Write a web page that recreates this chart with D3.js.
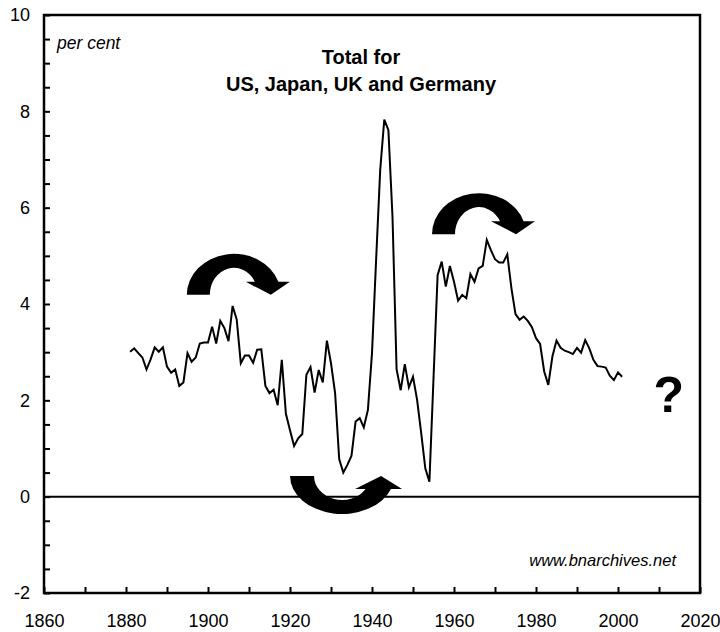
<!DOCTYPE html>
<html>
<head>
<meta charset="utf-8">
<title>Total for US, Japan, UK and Germany</title>
<script src="https://d3js.org/d3.v7.min.js"></script>
<style>
  body { margin: 0; background: #fff; }
  svg { display: block; font-family: "Liberation Sans", Arial, sans-serif; }
  .tick text { font-size: 18px; fill: #000; }
  .tick line { stroke: #000; stroke-width: 2px; }
  .title { font-size: 20px; font-weight: bold; }
  .note { font-style: italic; font-size: 16.5px; }
  .unit { font-style: italic; font-size: 17.5px; }
</style>
</head>
<body>
<div id="chart"></div>
<script>
const width = 720, height = 632;

// per cent, one value a year from 1881 to 2001
const firstYear = 1881;
const values = [
  3.01, 3.08, 2.98, 2.89, 2.64, 2.85, 3.10, 3.01, 3.10, 2.70,
  2.57, 2.64, 2.30, 2.37, 2.98, 2.80, 2.89, 3.18, 3.20, 3.20,
  3.53, 3.18, 3.65, 3.50, 3.23, 3.96, 3.68, 2.77, 2.93, 2.93,
  2.78, 3.05, 3.06, 2.30, 2.15, 2.22, 1.90, 2.84, 1.72, 1.38,
  1.05, 1.21, 1.30, 2.53, 2.69, 2.16, 2.63, 2.37, 3.24, 2.77,
  2.15, 0.78, 0.50, 0.66, 0.85, 1.56, 1.63, 1.44, 1.80, 2.98,
  4.91, 6.78, 7.83, 7.61, 5.81, 2.64, 2.21, 2.75, 2.27, 2.49,
  2.01, 1.32, 0.59, 0.31, 2.45, 4.60, 4.88, 4.36, 4.79, 4.46,
  4.07, 4.19, 4.12, 4.62, 4.46, 4.74, 4.79, 5.33, 5.12, 4.93,
  4.86, 4.86, 5.03, 4.33, 3.79, 3.67, 3.74, 3.65, 3.52, 3.29,
  3.17, 2.60, 2.32, 2.91, 3.24, 3.09, 3.03, 3.00, 2.96, 3.09,
  2.99, 3.25, 3.08, 2.84, 2.71, 2.70, 2.68, 2.51, 2.42, 2.58,
  2.49
];
const years = values.map((v, i) => firstYear + i);

const xTicks = d3.range(1860, 2021, 10);
const xLabels = [1860, 1880, 1900, 1920, 1940, 1960, 1980, 2000, 2020];
const yTicks = d3.range(-2, 10.01, 0.5);
const yLabels = [-2, 0, 2, 4, 6, 8, 10];

const titleLines = ["Total for", "US, Japan, UK and Germany"];
const unitLabel = "per cent";
const sourceLabel = "www.bnarchives.net";

// where the curved arrows and the question mark sit (year, per cent)
const arrowAnchors = [
  { year: 1906.3, value: 4.19, kind: "over" },
  { year: 1966.1, value: 5.45, kind: "over" },
  { year: 1932.7, value: 0.43, kind: "under" }
];
const questionAnchor = { year: 2012.4, value: 1.76 };

const margin = { top: 15, right: 20, bottom: 39, left: 44 };

const x = d3.scaleLinear()
  .domain([1860, 2020])
  .range([margin.left, width - margin.right]);

const y = d3.scaleLinear()
  .domain([-2, 10])
  .range([height - margin.bottom, margin.top]);

const svg = d3.select("#chart").append("svg")
  .attr("width", width)
  .attr("height", height);

// axes, ticks pointing inwards
const xAxis = svg.append("g")
  .attr("transform", `translate(0,${y(-2)})`)
  .call(d3.axisBottom(x)
    .tickValues(xTicks)
    .tickSize(-6)
    .tickPadding(21)
    .tickFormat(d => xLabels.includes(d) ? d : ""));
xAxis.select(".domain").remove();

const yAxis = svg.append("g")
  .attr("transform", `translate(${x(1860)},0)`)
  .call(d3.axisLeft(y)
    .tickValues(yTicks)
    .tickSize(-6)
    .tickPadding(14)
    .tickFormat(d => yLabels.includes(d) ? d : ""));
yAxis.select(".domain").remove();

// zero line
svg.append("line")
  .attr("x1", x(1860)).attr("x2", x(2020))
  .attr("y1", y(0)).attr("y2", y(0))
  .attr("stroke", "#000")
  .attr("stroke-width", 2);

// frame
svg.append("rect")
  .attr("x", x(1860))
  .attr("y", y(10))
  .attr("width", x(2020) - x(1860))
  .attr("height", y(-2) - y(10))
  .attr("fill", "none")
  .attr("stroke", "#000")
  .attr("stroke-width", 2.5);

// the series
const line = d3.line()
  .x((d, i) => x(years[i]))
  .y(d => y(d));

svg.append("path")
  .datum(values)
  .attr("d", line)
  .attr("fill", "none")
  .attr("stroke", "#000")
  .attr("stroke-width", 2)
  .attr("stroke-linejoin", "miter");

// titles and notes
svg.selectAll(".title")
  .data(titleLines)
  .enter().append("text")
    .attr("class", "title")
    .attr("x", 361)
    .attr("y", (d, i) => 64 + i * 27)
    .attr("text-anchor", "middle")
    .text(d => d);

svg.append("text")
  .attr("class", "unit")
  .attr("x", x(1860) + 13)
  .attr("y", 49)
  .text(unitLabel);

svg.append("text")
  .attr("class", "note")
  .attr("x", 676)
  .attr("y", 566)
  .attr("text-anchor", "end")
  .text(sourceLabel);

// curved arrows: a thick elliptic band ending in a head
const arrowShapes = {
  over:  { rx: 47, ry: 41, ix: 24, iy: 27, h: 13, head: [12, 56, 37], flip: 1 },
  under: { rx: 52, ry: 38, ix: 28, iy: 24, h: 13, head: [13, 60, 39], flip: -1 }
};

function arrowPath(s) {
  const ox = s.rx * Math.sqrt(1 - (s.h / s.ry) ** 2);
  const inx = s.ix * Math.sqrt(1 - (s.h / s.iy) ** 2);
  return `M${-s.rx},0 A${s.rx},${s.ry} 0 0 1 ${ox},${-s.h}` +
    ` L${s.head[1]},${-s.h} L${s.head[2]},0 L${s.head[0]},${-s.h}` +
    ` L${inx},${-s.h} A${s.ix},${s.iy} 0 0 0 ${-s.ix},0 Z`;
}

svg.selectAll(".arrow")
  .data(arrowAnchors)
  .enter().append("path")
    .attr("class", "arrow")
    .attr("transform", d => `translate(${x(d.year)},${y(d.value)}) scale(1,${arrowShapes[d.kind].flip})`)
    .attr("d", d => arrowPath(arrowShapes[d.kind]))
    .attr("fill", "#000");

svg.append("text")
  .attr("x", x(questionAnchor.year))
  .attr("y", y(questionAnchor.value))
  .attr("text-anchor", "middle")
  .attr("font-size", 50)
  .attr("font-weight", "bold")
  .text("?");
</script>
</body>
</html>
